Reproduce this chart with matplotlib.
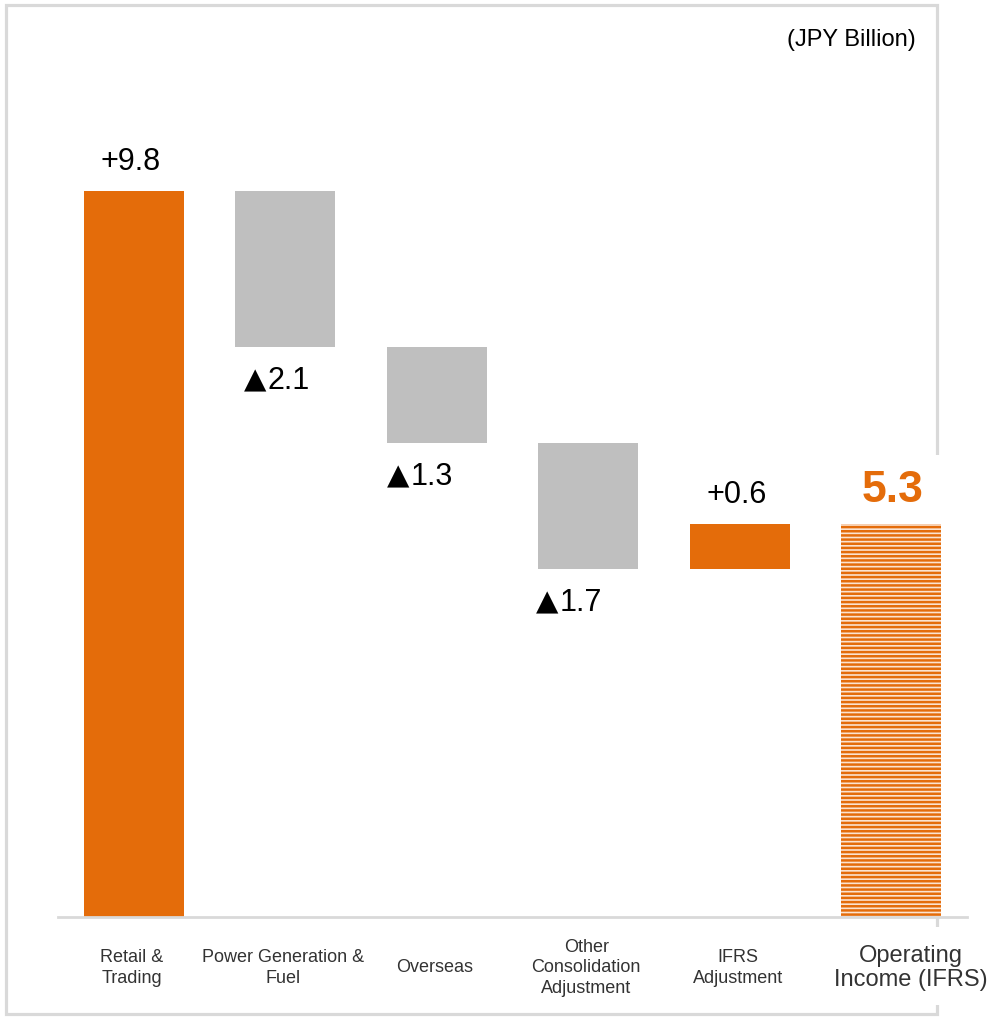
import matplotlib.pyplot as plt
from matplotlib.patches import Rectangle

plt.rcParams['font.family'] = ['Liberation Sans', 'DejaVu Sans']
plt.rcParams['hatch.linewidth'] = 1.8

categories = ['Retail &\nTrading', 'Power Generation &\nFuel', 'Overseas',
              'Other\nConsolidation\nAdjustment', 'IFRS\nAdjustment',
              'Operating\nIncome (IFRS)']
changes = [9.8, -2.1, -1.3, -1.7, 0.6]
total = 5.3

orange = '#E46C0A'
grey = '#BFBFBF'
line_grey = '#D9D9D9'

W, H = 988, 1017
fig = plt.figure(figsize=(W / 100, H / 100), dpi=100)

def fx(px):
    return px / W

def fy(py):
    return 1 - py / H

# outer frame, broken on the right where the total column sits
fig.add_artist(Rectangle((fx(5.5), fy(1014)), fx(936.5) - fx(5.5), fy(4.5) - fy(1014),
                         transform=fig.transFigure, fill=False, edgecolor=line_grey,
                         linewidth=2.3, zorder=-2))
for top, bottom in [(455, 917), (927, 1005)]:
    fig.add_artist(Rectangle((fx(928), fy(bottom)), fx(18), fy(top) - fy(bottom),
                             transform=fig.transFigure, facecolor='white',
                             edgecolor='none', zorder=-1))

ax = fig.add_axes([fx(58), fy(917), fx(909), fy(28) - fy(917)])
ax.set_facecolor('none')
ax.set_xlim(-0.5, 5.5)
ax.set_ylim(0, 12)

# running waterfall
neg_shift = {1: -18, 2: -26, 3: -29}
running = 0.0
for i, v in enumerate(changes):
    bottom = running if v > 0 else running + v
    ax.bar(i, abs(v), bottom=bottom, width=0.66,
           color=orange if v > 0 else grey, linewidth=0)
    if v > 0:
        ax.annotate(f'+{v:.1f}', xy=(i, running + v), xytext=(-3, 29),
                    textcoords='offset pixels', ha='center', va='center',
                    fontsize=22, color='black')
    else:
        dx = neg_shift.get(i, -25)
        ax.annotate(f'{abs(v):.1f}', xy=(i, running + v), xytext=(dx, -42),
                    textcoords='offset pixels', ha='left', va='baseline',
                    fontsize=22, color='black')
        ax.annotate('▲', xy=(i, running + v), xytext=(dx - 1, -42),
                    textcoords='offset pixels', ha='right', va='baseline',
                    fontsize=21, color='black', family='DejaVu Sans')
    running += v

n = len(changes)
ax.bar(n, total, width=0.66, facecolor='#FBE3D0', edgecolor=orange,
       hatch='----', linewidth=0)
ax.annotate(f'{total:.1f}', xy=(n, total), xytext=(1, 34),
            textcoords='offset pixels', ha='center', va='center',
            fontsize=32, fontweight='bold', color=orange)

for i, name in enumerate(categories):
    last = i == len(categories) - 1
    ax.annotate(name, xy=(i, 0), xytext=(20 if last else -2, -51),
                textcoords='offset pixels', ha='center', va='center',
                fontsize=17 if last else 13, color='#333333',
                linespacing=1.25 if not last else 1.15)

for s in ['top', 'right', 'left']:
    ax.spines[s].set_visible(False)
ax.spines['bottom'].set_color(line_grey)
ax.spines['bottom'].set_linewidth(2)
ax.set_xticks([])
ax.set_yticks([])

fig.text(fx(916), fy(40), '(JPY Billion)', ha='right', va='center',
         fontsize=17, color='black')

fig.savefig('out.png', dpi=100)
